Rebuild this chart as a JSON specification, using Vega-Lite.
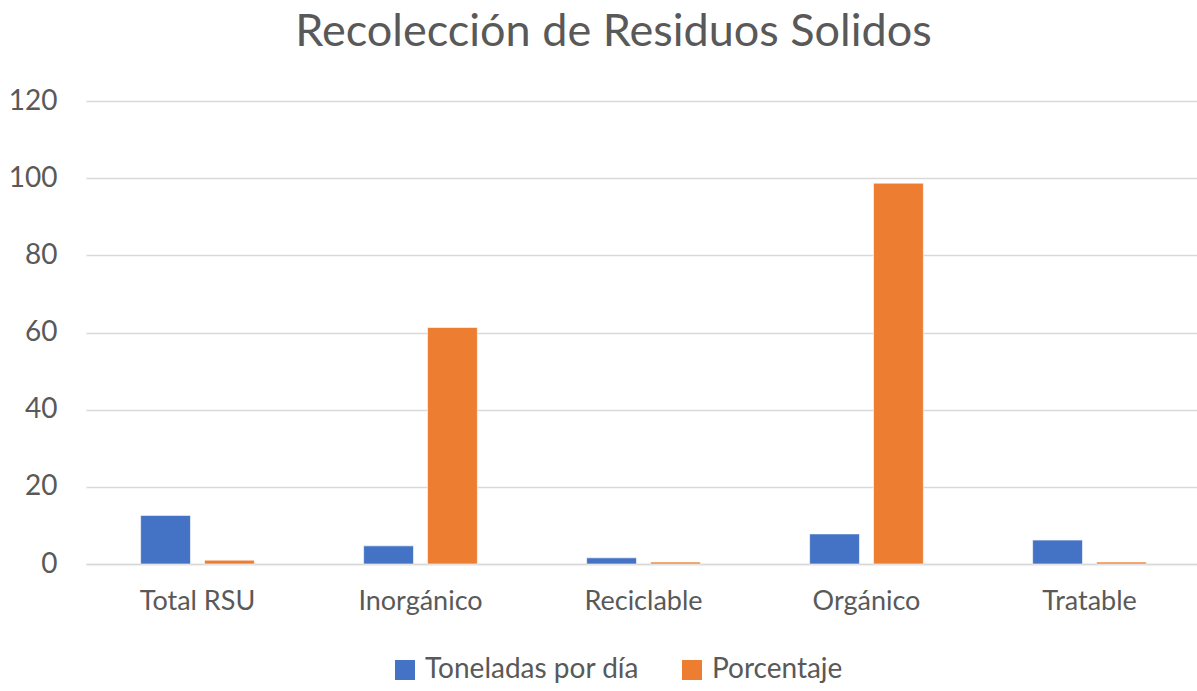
{
  "$schema": "https://vega.github.io/schema/vega-lite/v6.json",
  "autosize": "none",
  "width": 1115,
  "height": 463,
  "padding": {"left": 86, "top": 101, "right": 0, "bottom": 127},
  "background": "white",
  "title": {
    "text": "Recolección de Residuos Solidos",
    "font": "Lato",
    "fontSize": 45,
    "fontWeight": "normal",
    "color": "#595959",
    "anchor": "middle",
    "dx": -30,
    "offset": 32
  },
  "data": {
    "values": [
      {"categoria": "Total RSU", "serie": "Toneladas por día", "valor": 12.6},
      {"categoria": "Total RSU", "serie": "Porcentaje", "valor": 1.0},
      {"categoria": "Inorgánico", "serie": "Toneladas por día", "valor": 4.7},
      {"categoria": "Inorgánico", "serie": "Porcentaje", "valor": 61.3},
      {"categoria": "Reciclable", "serie": "Toneladas por día", "valor": 1.6},
      {"categoria": "Reciclable", "serie": "Porcentaje", "valor": 0.5},
      {"categoria": "Orgánico", "serie": "Toneladas por día", "valor": 7.8},
      {"categoria": "Orgánico", "serie": "Porcentaje", "valor": 98.7},
      {"categoria": "Tratable", "serie": "Toneladas por día", "valor": 6.2},
      {"categoria": "Tratable", "serie": "Porcentaje", "valor": 0.5}
    ]
  },
  "mark": {"type": "bar", "stroke": "white", "strokeWidth": 1, "strokeOpacity": 0.6},
  "encoding": {
    "x": {
      "field": "categoria",
      "type": "nominal",
      "sort": ["Total RSU", "Inorgánico", "Reciclable", "Orgánico", "Tratable"],
      "scale": {"paddingInner": 0.49, "paddingOuter": 0.245},
      "axis": {
        "title": null,
        "labelAngle": 0,
        "labelFont": "Lato",
        "labelFontSize": 27,
        "labelColor": "#595959",
        "labelPadding": 24,
        "ticks": false,
        "domainColor": "#D9D9D9",
        "domainWidth": 1.5
      }
    },
    "xOffset": {
      "field": "serie",
      "type": "nominal",
      "sort": ["Toneladas por día", "Porcentaje"],
      "scale": {"paddingInner": 0.22, "paddingOuter": 0}
    },
    "y": {
      "field": "valor",
      "type": "quantitative",
      "scale": {"domain": [0, 120], "nice": false},
      "axis": {
        "title": null,
        "values": [0, 20, 40, 60, 80, 100, 120],
        "labelFont": "Lato",
        "labelFontSize": 28,
        "labelColor": "#595959",
        "labelPadding": 29,
        "ticks": false,
        "domain": false,
        "gridColor": "#D9D9D9",
        "gridWidth": 1.5
      }
    },
    "color": {
      "field": "serie",
      "type": "nominal",
      "sort": ["Toneladas por día", "Porcentaje"],
      "scale": {"domain": ["Toneladas por día", "Porcentaje"], "range": ["#4472C4", "#ED7D31"]},
      "legend": {
        "title": null,
        "orient": "none",
        "direction": "horizontal",
        "legendX": 305,
        "legendY": 555,
        "symbolType": "square",
        "symbolSize": 400,
        "symbolStrokeWidth": 0,
        "labelFont": "Lato",
        "labelFontSize": 28,
        "labelColor": "#595959",
        "labelOffset": 6,
        "labelLimit": 400,
        "columnPadding": 38
      }
    }
  },
  "config": {"view": {"stroke": null}}
}
